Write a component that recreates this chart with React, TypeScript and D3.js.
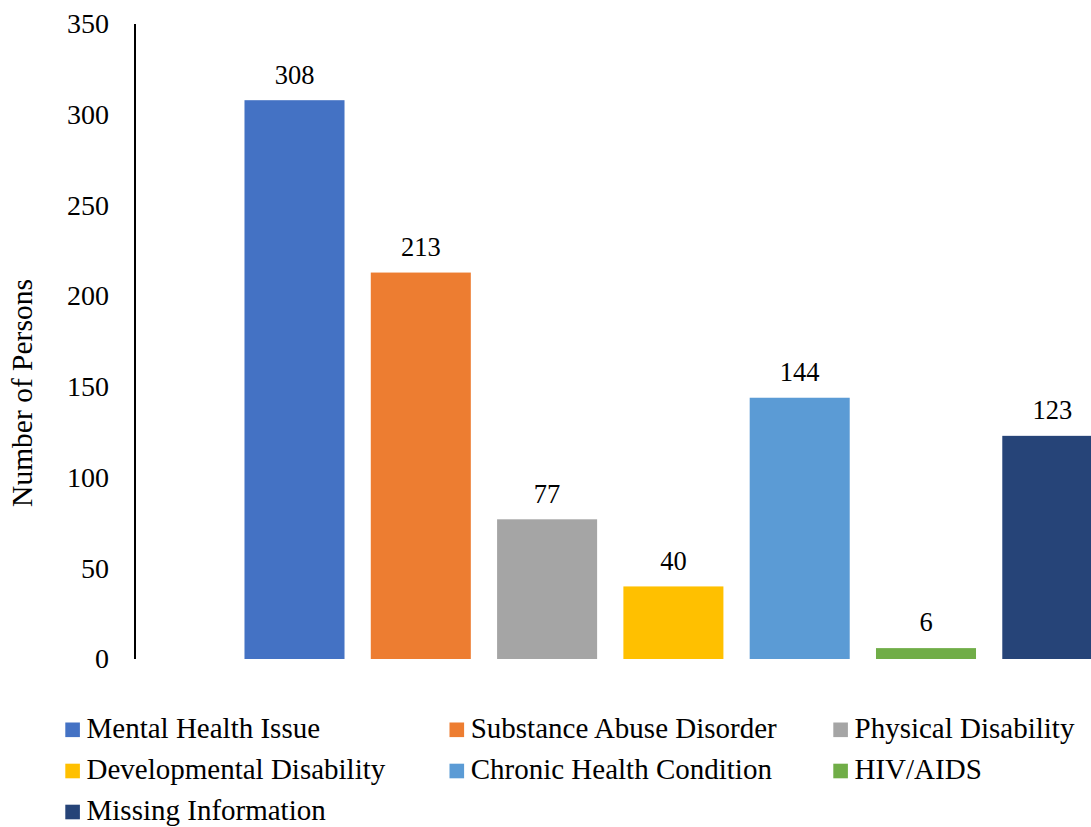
import React from "react";
import * as d3 from "d3";

const categories = [
  "Mental Health Issue",
  "Substance Abuse Disorder",
  "Physical Disability",
  "Developmental Disability",
  "Chronic Health Condition",
  "HIV/AIDS",
  "Missing Information",
];
const values = [308, 213, 77, 40, 144, 6, 123];
const colors = ["#4472C4", "#ED7D31", "#A5A5A5", "#FFC000", "#5B9BD5", "#70AD47", "#264478"];
const yTicks = [0, 50, 100, 150, 200, 250, 300, 350];
const yTitle = "Number of Persons";

const W = 1091;
const H = 827;
const FONT = '"Liberation Serif", "Times New Roman", Tinos, "DejaVu Serif", serif';

export default function App() {
  const y = d3.scaleLinear().domain([0, 350]).range([659, 24]);
  const x = d3
    .scaleBand<string>()
    .domain(categories)
    .range([231.35, 1115.45])
    .paddingInner(0.208)
    .paddingOuter(0.104);

  const legendCols = [65.3, 449.5, 833.3];
  const legendBaselines = [737.8, 779, 820];
  const ts = { fontFamily: FONT } as React.CSSProperties;

  return (
    <svg
      width={W}
      height={H}
      style={{ position: "absolute", left: 0, top: 0, background: "#fff", fontFamily: FONT }}
    >
      <rect x={0} y={0} width={W} height={H} fill="#fff" />
      <line x1={135} x2={135} y1={y(350)} y2={y(0)} stroke="#000" strokeWidth={2} />
      {yTicks.map((t) => (
        <text key={t} x={109} y={y(t) + 9.3} textAnchor="end" fontSize={28} fill="#000" style={ts}>
          {t}
        </text>
      ))}
      <text
        transform={`translate(22, ${393}) rotate(-90)`}
        textAnchor="middle"
        dominantBaseline="central"
        fontSize={29.5}
        fill="#000"
        style={ts}
      >
        {yTitle}
      </text>
      {categories.map((c, i) => (
        <g key={c}>
          <rect
            x={x(c)!}
            y={y(values[i])}
            width={x.bandwidth()}
            height={y(0) - y(values[i])}
            fill={colors[i]}
          />
          <text
            x={x(c)! + x.bandwidth() / 2}
            y={y(values[i]) - 16.7}
            textAnchor="middle"
            fontSize={26.5}
            fill="#000"
            style={ts}
          >
            {values[i]}
          </text>
        </g>
      ))}
      {categories.map((c, i) => {
        const col = i % 3;
        const row = Math.floor(i / 3);
        const lx = legendCols[col];
        const ly = legendBaselines[row];
        return (
          <g key={"lg" + c}>
            <rect x={lx} y={ly - 15.3} width={14.6} height={14.6} fill={colors[i]} />
            <text x={lx + 21.2} y={ly} fontSize={29} fill="#000" style={ts}>
              {c}
            </text>
          </g>
        );
      })}
    </svg>
  );
}
